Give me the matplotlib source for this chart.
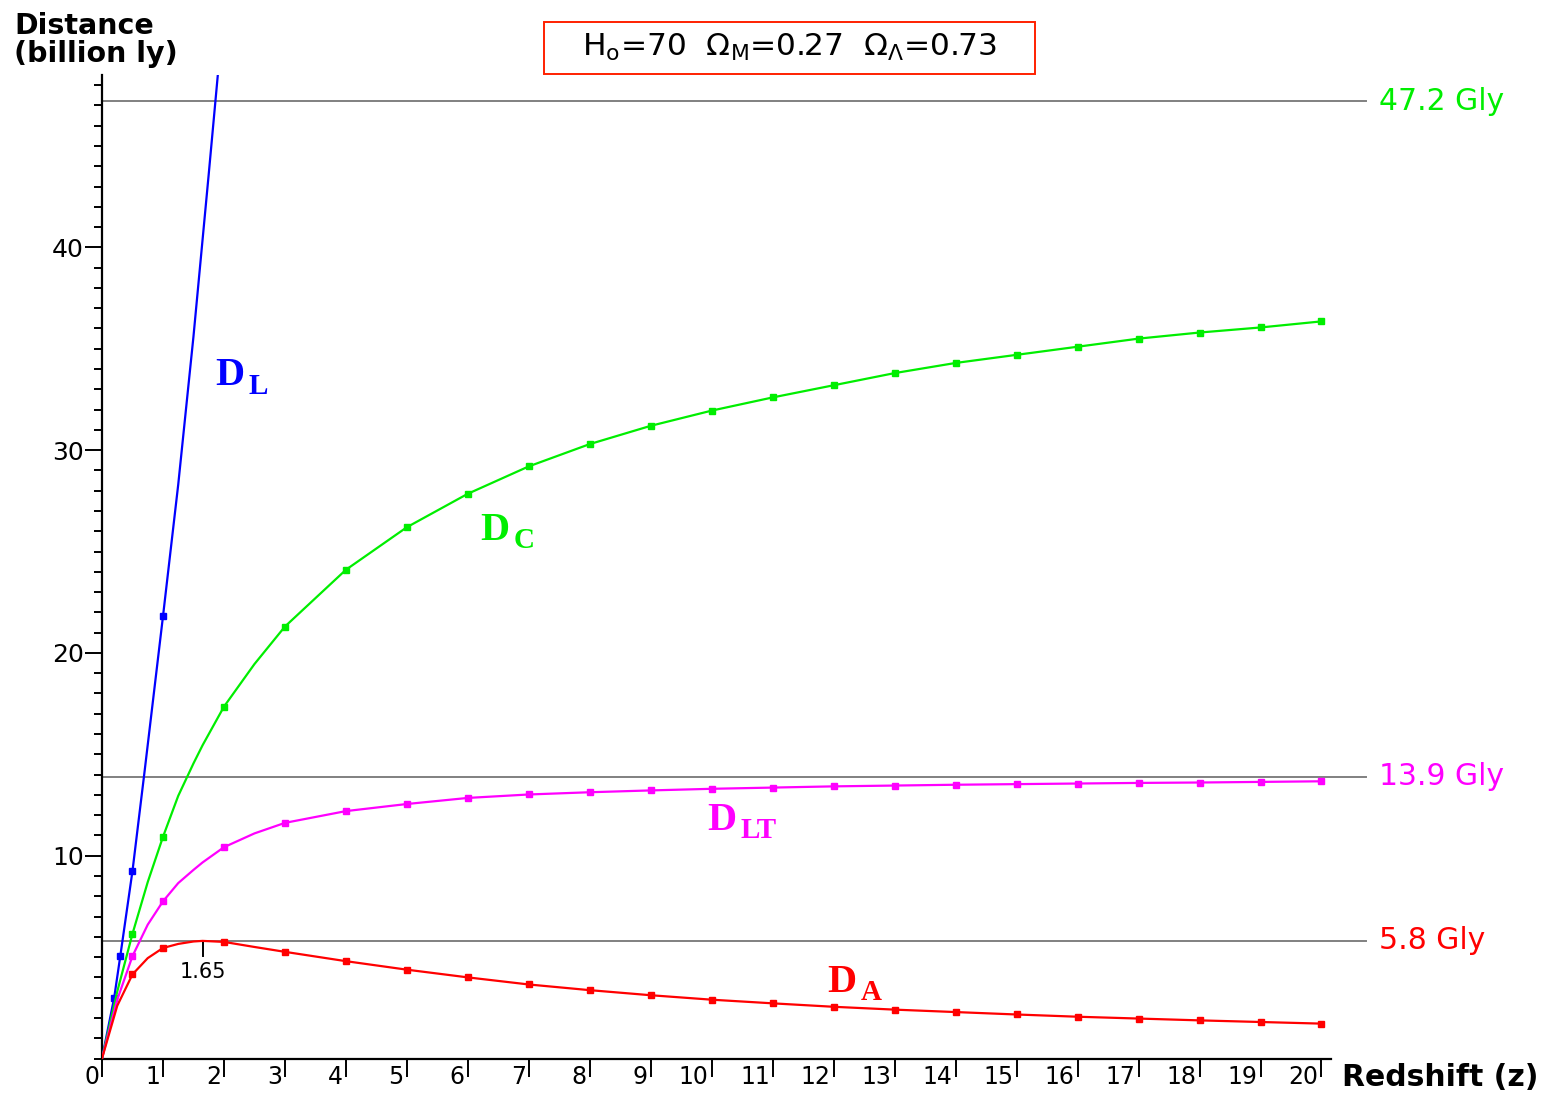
import numpy as np
import matplotlib
matplotlib.use("Agg")
import matplotlib.pyplot as plt
from matplotlib.patches import Rectangle
from matplotlib.transforms import ScaledTranslation

# values (billion light years)
z = [0, 0.25, 0.5, 0.75, 1, 1.25, 1.5, 1.65, 2, 2.5, 3, 4, 5, 6, 7, 8, 9, 10,
     11, 12, 13, 14, 15, 16, 17, 18, 19, 20]
d_c = [0, 3.3, 6.15, 8.7, 10.93, 12.95, 14.55, 15.45, 17.35, 19.45, 21.3, 24.1,
       26.2, 27.85, 29.2, 30.3, 31.2, 31.95, 32.6, 33.2, 33.8, 34.3, 34.7,
       35.1, 35.5, 35.8, 36.05, 36.35]
d_lt = [0, 2.9, 5.05, 6.6, 7.75, 8.65, 9.3, 9.67, 10.42, 11.1, 11.62, 12.2,
        12.55, 12.85, 13.02, 13.13, 13.22, 13.3, 13.36, 13.42, 13.46, 13.5,
        13.53, 13.56, 13.59, 13.61, 13.64, 13.67]
d_a = [0, 2.6, 4.15, 4.95, 5.45, 5.65, 5.77, 5.8, 5.75, 5.5, 5.26, 4.8, 4.38,
       4.0, 3.65, 3.37, 3.12, 2.9, 2.72, 2.55, 2.41, 2.29, 2.17, 2.06, 1.97,
       1.88, 1.8, 1.72]
z_l = [0, 0.2, 0.3, 0.5, 0.7, 1.0, 1.25, 1.5, 1.75, 2.0]
d_l = [0, 3.0, 5.05, 9.25, 14.2, 21.8, 28.3, 35.6, 43.6, 51.8]

mark_z = [0.5] + list(range(1, 21))
mark_zl = [0.2, 0.3, 0.5, 1.0]

limits = [47.2, 13.9, 5.8]
limit_labels = ["47.2 Gly", "13.9 Gly", "5.8 Gly"]
limit_colors = ["#00ee00", "#ff00ff", "#ff0000"]
peak_z = 1.65

blue, green, magenta, red = "#0000ff", "#00ee00", "#ff00ff", "#ff0000"

W, H = 1556, 1096
fig = plt.figure(figsize=(W / 100, H / 100), dpi=100)
ax = fig.add_axes([102 / W, 1 - 1058.5 / H, (1366 - 102) / W, (1058.5 - 75) / H])
ax.set_xlim(0, 20.73)
ax.set_ylim(0, 48.5)

for y in limits:
    ax.plot([0, 20.73], [y, y], color="#808080", lw=1.4, zorder=1, clip_on=False)

mk = list(np.where(np.isin(z, mark_z))[0])
mkl = list(np.where(np.isin(z_l, mark_zl))[0])
ax.plot(z_l, d_l, color=blue, lw=1.6, marker="s", ms=4, markevery=mkl, zorder=3)
ax.plot(z, d_c, color=green, lw=1.6, marker="s", ms=4, markevery=mk, zorder=3)
ax.plot(z, d_lt, color=magenta, lw=1.6, marker="s", ms=4, markevery=mk, zorder=3)
ax.plot(z, d_a, color=red, lw=1.6, marker="s", ms=4, markevery=mk, zorder=3)

# spines and ticks
for s in ["top", "right"]:
    ax.spines[s].set_visible(False)
ax.spines["left"].set_linewidth(1.6)
ax.spines["bottom"].set_linewidth(1.6)
ax.spines["bottom"].set_bounds(0, 20.15)

ax.set_yticks([10, 20, 30, 40])
ax.set_yticks(range(0, 49), minor=True)
ax.tick_params(axis="y", which="major", length=12, width=1.4, labelsize=18, pad=1)
ax.tick_params(axis="y", which="minor", length=6, width=1.4)

ax.set_xticks(range(0, 21))
ax.tick_params(axis="x", which="major", length=13, width=1.4, labelsize=17, pad=-8)
for lab in ax.get_xticklabels():
    lab.set_horizontalalignment("right")
    lab.set_transform(lab.get_transform() + ScaledTranslation(-0.03, 0, fig.dpi_scale_trans))

# 1.65 marker under the 5.8 line
ax.plot([peak_z, peak_z], [5.8, 5.05], color="black", lw=1.4, zorder=2)
ax.text(peak_z, 4.75, "1.65", ha="center", va="top", fontsize=15)

# right-hand labels for the horizontal lines
for y, t, c in zip(limits, limit_labels, limit_colors):
    ax.text(20.95, y, t, color=c, fontsize=21.5, va="center", ha="left", clip_on=False)


# curve names: big serif D with a smaller subscript
def curve_name(x, y, sub, color):
    ax.text(x, y, "D", color=color, fontsize=29, family="Liberation Serif",
            fontweight="bold", va="baseline")
    ax.annotate(sub, xy=(x, y), xytext=(24, -6), textcoords="offset points",
                color=color, fontsize=21, family="Liberation Serif", fontweight="bold",
                va="baseline")


curve_name(1.86, 33.2, "L", blue)
curve_name(6.2, 25.58, "C", green)
curve_name(9.92, 11.27, "LT", magenta)
curve_name(11.9, 3.28, "A", red)

# axis titles
fig.text(14 / W, 1 - 40 / H, "Distance\n(billion ly)", fontsize=20.5, fontweight="bold",
         va="center", ha="left", linespacing=1.0)
fig.text(1342 / W, 1 - 1077 / H, "Redshift (z)", fontsize=21.5, fontweight="bold",
         va="center", ha="left")

# parameter box
fig.patches.append(Rectangle((544 / W, 1 - 74 / H), (1035 - 544) / W, 52 / H,
                             transform=fig.transFigure, fill=False, edgecolor="#ff2000", lw=1.4))
fig.text(789 / W, 1 - 47 / H,
         r"H$_\mathregular{o}$=70  $\Omega_\mathregular{M}$=0.27  $\Omega_\Lambda$=0.73",
         fontsize=22.5, ha="center", va="center")

fig.savefig("out.png", dpi=100)
